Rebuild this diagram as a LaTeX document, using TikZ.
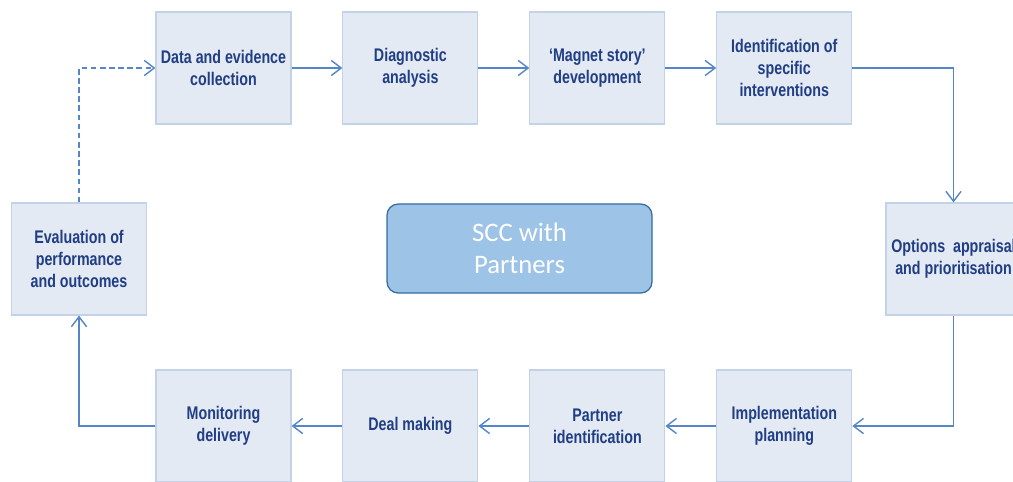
\documentclass[tikz,border=0pt]{standalone}
\usepackage{fontspec}
\usepackage{tikz}
\usetikzlibrary{arrows.meta, positioning}
\newfontfamily\stagefont[FakeStretch=0.78]{Liberation Sans}
\newfontfamily\hubfont{Carlito}
\definecolor{stagefill}{RGB}{228, 234, 244}
\definecolor{stageedge}{RGB}{196, 210, 232}
\definecolor{stagetext}{RGB}{32, 62, 132}
\definecolor{flowblue}{RGB}{84, 134, 200}
\definecolor{hubfill}{RGB}{157, 195, 230}
\definecolor{hubedge}{RGB}{52, 108, 158}
\tikzstyle{stage} = [rectangle, draw=stageedge, fill=stagefill, line width=0.8pt, minimum width=3.375cm, minimum height=2.8cm, align=center, inner sep=1pt, font=\stagefont\bfseries\fontsize{13}{15.6}\selectfont, text=stagetext]
\tikzstyle{hub} = [rectangle, draw=hubedge, fill=hubfill, line width=0.9pt, minimum width=6.625cm, minimum height=2.225cm, align=center, rounded corners=8pt, font=\hubfont\fontsize{19}{23}\selectfont, text=white]
\tikzstyle{line} = [draw, -{Straight Barb[length=2.5mm, width=3.8mm]}, line width=1pt, flowblue]
\tikzstyle{dashedline} = [draw, -{Straight Barb[length=2.5mm, width=3.8mm]}, dash pattern=on 4pt off 2.5pt, line width=1pt, flowblue]

\begin{document}
\begin{tikzpicture}[node distance=1.27cm]
    \useasboundingbox (0,0) rectangle (25.325,-12.025);
    \clip (0,0) rectangle (25.325,-12.025);
    % Nodes
    \node (data) [stage] at (5.5875,-1.7) {Data and evidence\\collection};
    \node (diagnostic) [stage, right=of data] {Diagnostic\\analysis};
    \node (magnet) [stage, right=of diagnostic] {‘Magnet story’\\development};
    \node (ident) [stage, right=of magnet] {Identification of\\specific\\interventions};
    \node (options) [stage] at (23.8375,-6.475) {Options~~appraisal\\and prioritisation};
    \node (monitor) [stage] at (5.5875,-10.65) {Monitoring\\delivery};
    \node (deal) [stage, right=of monitor] {Deal making};
    \node (partner) [stage, right=of deal] {Partner\\identification};
    \node (impl) [stage, right=of partner] {Implementation\\planning};
    \node (eval) [stage] at (1.975,-6.475) {Evaluation of\\performance\\and outcomes};
    \node (scc) [hub] at (12.9875,-6.2125) {SCC with\\Partners};

    % Paths
    \draw [line] (data) -- (diagnostic);
    \draw [line] (diagnostic) -- (magnet);
    \draw [line] (magnet) -- (ident);
    \draw [line] (ident.east) -| (options.north);
    \draw [line] (options.south) |- (impl.east);
    \draw [line] (impl) -- (partner);
    \draw [line] (partner) -- (deal);
    \draw [line] (deal) -- (monitor);
    \draw [line] (monitor.west) -| (eval.south);
    \draw [dashedline] (eval.north) |- (data.west);
\end{tikzpicture}
\end{document}
